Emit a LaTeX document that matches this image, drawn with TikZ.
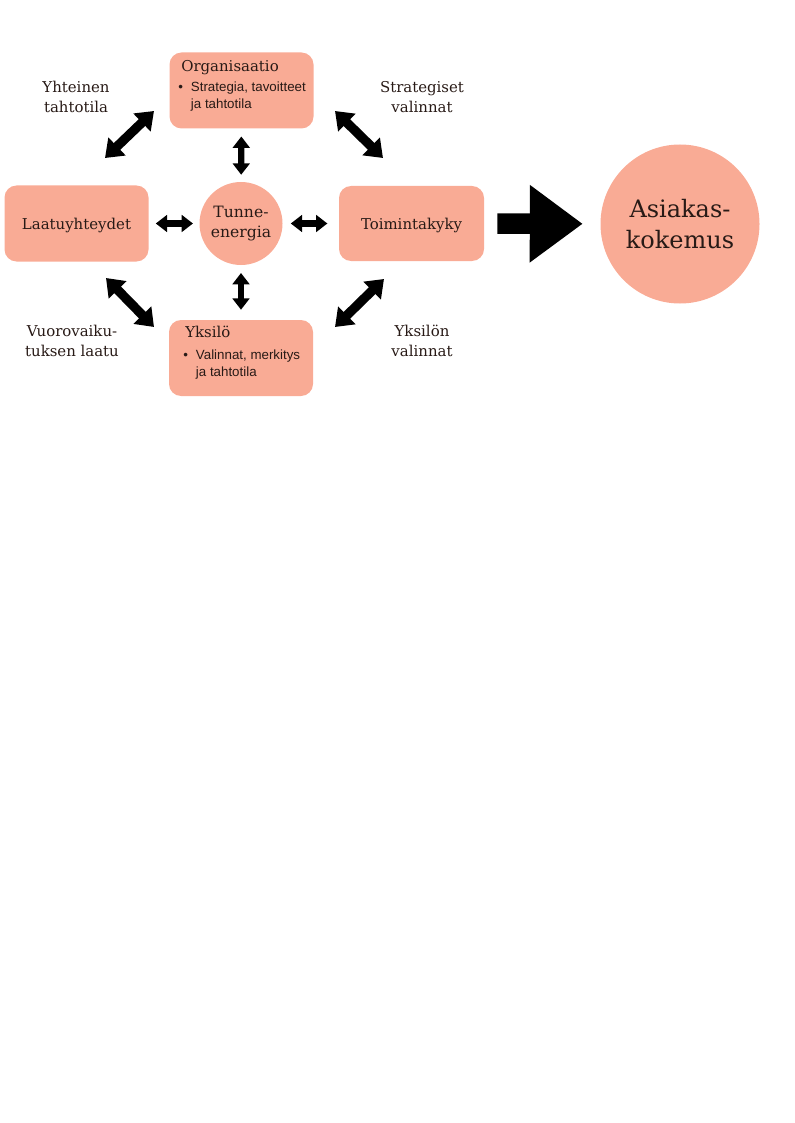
\documentclass[tikz,border=0pt]{standalone}
\usepackage{fontspec}
\setmainfont{DejaVu Serif}
\newfontfamily\itemfont{Liberation Sans}
\usetikzlibrary{arrows.meta}

\definecolor{salmon}{RGB}{249,171,149}
\definecolor{ink}{RGB}{40,26,22}

% two centred lines, baseline at the first one
\newcommand\twolines[2]{\begin{tabular}[t]{@{}c@{}}#1\\#2\end{tabular}}
% bullet with a two line entry
\newcommand\bulletpair[2]{\textbullet\hspace{6pt}\begin{tabular}[t]{@{}l@{}}#1\\#2\end{tabular}}

\begin{document}
\begin{tikzpicture}[x=0.75pt, y=-0.75pt,
    box/.style={fill=salmon, rounded corners=9pt, minimum width=108pt,
      minimum height=57pt, inner sep=0pt, text depth=0pt, text=ink,
      font=\fontsize{11.2}{15}\selectfont},
    ball/.style={circle, fill=salmon, inner sep=0pt, align=center, text=ink},
    boxtitle/.style={anchor=base west, inner sep=0pt, text=ink,
      font=\fontsize{11.2}{15}\selectfont},
    itemtext/.style={anchor=base west, inner sep=0pt, text=ink,
      font=\itemfont\fontsize{10}{12.75}\selectfont},
    sidetext/.style={anchor=base, inner sep=0pt, text=ink,
      font=\fontsize{11.2}{15}\selectfont},
    bigtip/.style={line width=7pt,
      {Triangle[length=12.5pt,width=18pt]}-{Triangle[length=12.5pt,width=18pt]}},
    smalltip/.style={line width=4.8pt,
      {Triangle[length=8.5pt,width=12.5pt]}-{Triangle[length=8.5pt,width=12.5pt]}},
    blockarrow/.style={line width=15.4pt, -{Triangle[length=39.75pt,width=55.5pt]}}
  ]
  \useasboundingbox (0,0) rectangle (794,1123);

  % boxes and circles
  \node[box] (org) at (241.5,90.5) {};
  \node[box] (laatu) at (76.5,223.5) {Laatuyhteydet};
  \node[box, minimum width=108.75pt, minimum height=56.25pt] (toim) at (411.5,223.5) {Toimintakyky};
  \node[box] (yksilo) at (241,358) {};
  \node[ball, minimum size=62.25pt, font=\fontsize{11.7}{15.5}\selectfont] (tunne) at (241,223.5) {Tunne-\\energia};
  \node[ball, minimum size=119.25pt, font=\fontsize{18}{23.25}\selectfont] (asiakas) at (680,224) {Asiakas-\\kokemus};

  % texts inside the boxes
  \node[boxtitle] (orgtitle) at (181,72) {Organisaatio};
  \node[itemtext] (orgitem) at (178,92) {\bulletpair{Strategia, tavoitteet}{ja tahtotila}};
  \node[boxtitle] (yksilotitle) at (185,337) {Yksilö};
  \node[itemtext] (yksiloitem) at (183,359) {\bulletpair{Valinnat, merkitys}{ja tahtotila}};

  % texts beside the diagonal arrows
  \node[sidetext] (yhteinen) at (76,93) {\twolines{Yhteinen}{tahtotila}};
  \node[sidetext] (strategiset) at (422,93) {\twolines{Strategiset}{valinnat}};
  \node[sidetext] (vuoro) at (72,336) {\twolines{Vuorovaiku-}{tuksen laatu}};
  \node[sidetext] (yksilon) at (422,336) {\twolines{Yksilön}{valinnat}};

  % ends of the diagonal arrows
  \coordinate (tl1) at (105,158);
  \coordinate (tl2) at (154,111);
  \coordinate (tr1) at (335,111);
  \coordinate (tr2) at (383,158);
  \coordinate (bl1) at (106,278);
  \coordinate (bl2) at (154,327);
  \coordinate (br1) at (335,327);
  \coordinate (br2) at (384,279);

  \begin{scope}[draw=black]
    \draw[bigtip] (tl1) -- (tl2);
    \draw[bigtip] (tr1) -- (tr2);
    \draw[bigtip] (bl1) -- (bl2);
    \draw[bigtip] (br1) -- (br2);
    \draw[smalltip, shorten <=5.8pt, shorten >=5.25pt] (org) -- (tunne);
    \draw[smalltip, shorten <=5.8pt, shorten >=7.5pt] (tunne) -- (yksilo);
    \draw[smalltip, shorten <=5.25pt, shorten >=4.7pt] (laatu) -- (tunne);
    \draw[smalltip, shorten <=6pt, shorten >=8.5pt] (tunne) -- (toim);
    \draw[blockarrow, shorten <=9.75pt, shorten >=13.1pt] (toim) -- (asiakas);
  \end{scope}
\end{tikzpicture}
\end{document}
